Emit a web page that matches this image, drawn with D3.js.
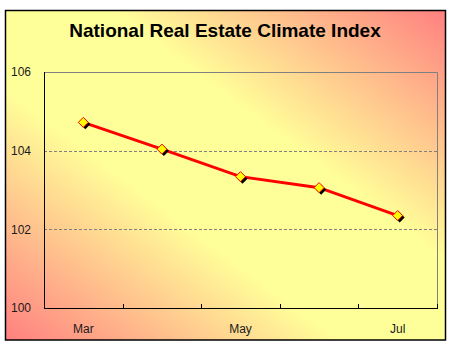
<!DOCTYPE html>
<html>
<head>
<meta charset="utf-8">
<script src="https://cdn.jsdelivr.net/npm/d3@7"></script>
<style>
  body { margin: 0; background: #fff; }
  text { font-family: "Liberation Sans", Arial, sans-serif; }
</style>
</head>
<body>
<svg id="chart"></svg>
<script>
const months = ['Mar', 'Apr', 'May', 'Jun', 'Jul'];
const shownLabels = ['Mar', 'May', 'Jul'];
const values = [104.72, 104.04, 103.34, 103.06, 102.35];
const yTicks = [100, 102, 104, 106];
const title = 'National Real Estate Climate Index';

const width = 450, height = 350;
const margin = {top: 72, right: 13, bottom: 42, left: 44};

const svg = d3.select('#chart')
    .attr('width', width)
    .attr('height', height);

const defs = svg.append('defs');
const grad = defs.append('linearGradient')
    .attr('id', 'bg')
    .attr('x1', 1).attr('y1', 0)
    .attr('x2', 0).attr('y2', 1);
grad.append('stop').attr('offset', 0).attr('stop-color', '#ff8080');
grad.append('stop').attr('offset', 0.38).attr('stop-color', '#ffff99');
grad.append('stop').attr('offset', 0.62).attr('stop-color', '#ffff99');
grad.append('stop').attr('offset', 1).attr('stop-color', '#ff8080');

svg.append('rect')
    .attr('x', 5.5).attr('y', 10.5)
    .attr('width', 440).attr('height', 329.5)
    .attr('fill', 'url(#bg)')
    .attr('stroke', '#000')
    .attr('stroke-width', 1.5);

svg.append('text')
    .attr('x', 225)
    .attr('y', 37)
    .attr('text-anchor', 'middle')
    .style('font-size', '19px')
    .style('font-weight', 'bold')
    .attr('fill', '#000')
    .text(title);

const innerW = width - margin.left - margin.right;
const innerH = height - margin.top - margin.bottom;

const chart = svg.append('g')
    .attr('transform', `translate(${margin.left}, ${margin.top})`);

const xscale = d3.scaleBand()
    .domain(months)
    .range([0, innerW]);

const yscale = d3.scaleLinear()
    .domain([100, 106])
    .range([innerH, 0]);

// gridlines
chart.selectAll('.grid')
    .data(yTicks.filter(d => d > 100 && d < 106))
    .join('line')
    .attr('class', 'grid')
    .attr('x1', 0).attr('x2', innerW)
    .attr('y1', d => Math.round(yscale(d)) + 0.5)
    .attr('y2', d => Math.round(yscale(d)) + 0.5)
    .attr('stroke', '#808080')
    .attr('stroke-dasharray', '3,2');

// plot frame: top and right grey
chart.append('path')
    .attr('d', `M0.5,${Math.round(yscale(106)) + 0.5}H${innerW + 0.5}V${innerH}`)
    .attr('fill', 'none')
    .attr('stroke', '#808080');

// x axis
const xaxis = d3.axisBottom(xscale)
    .tickSize(0)
    .tickFormat(d => shownLabels.includes(d) ? d : '');
const xg = chart.append('g')
    .attr('transform', `translate(0, ${innerH})`)
    .call(xaxis);
xg.select('.domain').remove();
xg.selectAll('text')
    .attr('dy', 0)
    .attr('y', 25)
    .style('font-size', '12px')
    .attr('fill', '#1a1a1a');

// x tick marks at band edges
const edges = months.map(m => xscale(m)).concat([innerW]);
chart.selectAll('.xtick')
    .data(edges)
    .join('line')
    .attr('class', 'xtick')
    .attr('x1', d => Math.round(d) + 0.5).attr('x2', d => Math.round(d) + 0.5)
    .attr('y1', innerH - 4).attr('y2', innerH)
    .attr('stroke', '#000');

// y axis
const yaxis = d3.axisLeft(yscale)
    .tickValues(yTicks)
    .tickFormat(d3.format('d'))
    .tickSize(0)
    .tickPadding(13);
const yg = chart.append('g').call(yaxis);
yg.select('.domain').remove();
yg.selectAll('text')
    .style('font-size', '12px')
    .attr('fill', '#1a1a1a');

// axis lines
chart.append('line')
    .attr('x1', 0.5).attr('x2', 0.5)
    .attr('y1', 0).attr('y2', innerH + 0.5)
    .attr('stroke', '#000');
chart.append('line')
    .attr('x1', 0).attr('x2', innerW + 1)
    .attr('y1', innerH + 0.5).attr('y2', innerH + 0.5)
    .attr('stroke', '#000');

// series line
const xval = (d, i) => xscale(months[i]) + xscale.bandwidth() / 2;
const line = d3.line()
    .x(xval)
    .y(d => yscale(d));

chart.append('path')
    .datum(values)
    .attr('d', line)
    .attr('fill', 'none')
    .attr('stroke', '#ff0000')
    .attr('stroke-width', 3);

// markers: shadow then diamond
const diamond = 'M0,-5L5,0L0,5L-5,0Z';
chart.selectAll('.shadow')
    .data(values)
    .join('path')
    .attr('class', 'shadow')
    .attr('d', diamond)
    .attr('transform', (d, i) => `translate(${xval(d, i) + 2}, ${yscale(d) + 2})`)
    .attr('fill', '#000');

chart.selectAll('.marker')
    .data(values)
    .join('path')
    .attr('class', 'marker')
    .attr('d', diamond)
    .attr('transform', (d, i) => `translate(${xval(d, i)}, ${yscale(d)})`)
    .attr('fill', '#ffff00')
    .attr('stroke', '#ff0000')
    .attr('stroke-width', 1);
</script>
</body>
</html>
